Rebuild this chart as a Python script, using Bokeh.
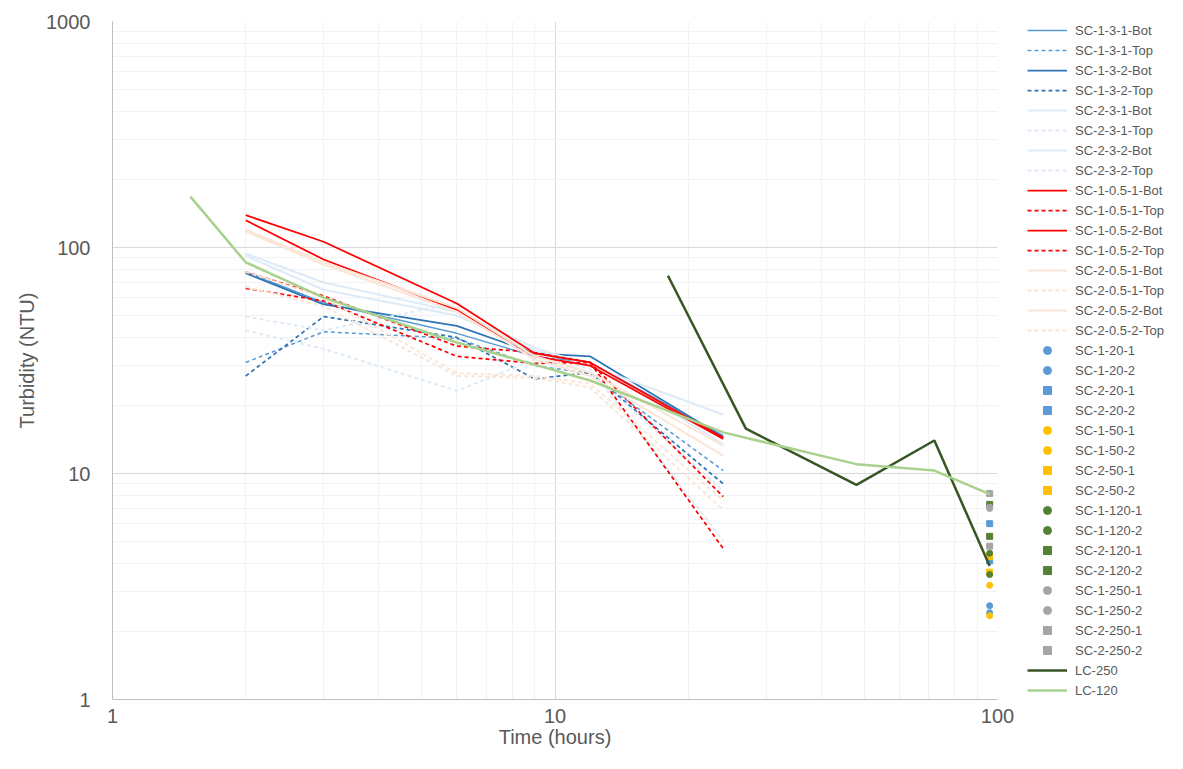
from bokeh.plotting import figure
from bokeh.models import Legend, LegendItem, FixedTicker
from bokeh.layouts import row
from bokeh.embed import file_html
from bokeh.resources import INLINE

# ---------------- data ----------------
times = [2, 3, 6, 9, 12, 24]

sc_1_3_1_bot = [78, 57, 41.7, 33, 31, 14.7]
sc_1_3_1_top = [31, 42.4, 39.6, 30, 27.7, 10.3]
sc_1_3_2_bot = [77, 56, 45, 34, 33, 14.5]
sc_1_3_2_top = [27, 49.5, 40, 26.2, 28, 9.0]
sc_2_3_1_bot = [94, 70, 52, 36, 30, 18.2]
sc_2_3_1_top = [43, 35.6, 23.2, 32, 28, 8.4]
sc_2_3_2_bot = [92, 65, 50, 35, 31, 13.5]
sc_2_3_2_top = [49.5, 43, 57, 34, 29, 5.05]
sc_1_05_1_bot = [139, 106, 56.5, 34, 31, 14.4]
sc_1_05_1_top = [78, 61, 36.6, 34.3, 31, 7.9]
sc_1_05_2_bot = [132, 88.5, 53, 33, 30, 14.2]
sc_1_05_2_top = [66, 58, 33, 30.7, 31, 4.65]
sc_2_05_1_bot = [120, 86, 54, 33, 28, 13.3]
sc_2_05_1_top = [78, 60, 27.8, 27, 25, 7.6]
sc_2_05_2_bot = [118, 84, 52, 32, 27, 12.0]
sc_2_05_2_top = [67, 55, 27, 26.5, 24, 6.9]

point_time = [96]
sc_1_20_1 = [2.6]
sc_1_20_2 = [2.42]
sc_2_20_1 = [6.0]
sc_2_20_2 = [4.1]
sc_1_50_1 = [3.2]
sc_1_50_2 = [2.35]
sc_2_50_1 = [4.3]
sc_2_50_2 = [3.66]
sc_1_120_1 = [4.44]
sc_1_120_2 = [3.57]
sc_2_120_1 = [7.3]
sc_2_120_2 = [5.27]
sc_1_250_1 = [7.1]
sc_1_250_2 = [7.0]
sc_2_250_1 = [8.16]
sc_2_250_2 = [4.77]

lc_250_time = [18, 27, 48, 72, 96]
lc_250 = [75, 15.8, 8.9, 14, 3.9]
lc_120_time = [1.5, 2, 3, 6, 12, 24, 48, 72, 96]
lc_120 = [168, 86, 60, 38, 25.8, 15.2, 11, 10.3, 8.1]

x_ticks = [1, 10, 100]
x_tick_labels = ["1", "10", "100"]
y_ticks = [1, 10, 100, 1000]
y_tick_labels = ["1", "10", "100", "1000"]

# ---------------- styles ----------------
BLUE1 = "#5B9BD5"
BLUE2 = "#2E75B6"
LBLUE = "#DEEBF7"
RED = "#FF0000"
PEACH = "#FBE5D6"
YEL = "#FFC000"
GRN = "#548235"
GRY = "#A5A5A5"

line_series = [
    ("SC-1-3-1-Bot", sc_1_3_1_bot, BLUE1, "solid", 1.5),
    ("SC-1-3-1-Top", sc_1_3_1_top, BLUE1, "4 3", 1.5),
    ("SC-1-3-2-Bot", sc_1_3_2_bot, BLUE2, "solid", 1.75),
    ("SC-1-3-2-Top", sc_1_3_2_top, BLUE2, "4 3", 1.75),
    ("SC-2-3-1-Bot", sc_2_3_1_bot, LBLUE, "solid", 2),
    ("SC-2-3-1-Top", sc_2_3_1_top, LBLUE, "4 3", 2),
    ("SC-2-3-2-Bot", sc_2_3_2_bot, LBLUE, "solid", 2),
    ("SC-2-3-2-Top", sc_2_3_2_top, LBLUE, "4 3", 2),
    ("SC-1-0.5-1-Bot", sc_1_05_1_bot, RED, "solid", 1.75),
    ("SC-1-0.5-1-Top", sc_1_05_1_top, RED, "4 3", 1.75),
    ("SC-1-0.5-2-Bot", sc_1_05_2_bot, RED, "solid", 1.75),
    ("SC-1-0.5-2-Top", sc_1_05_2_top, RED, "4 3", 1.75),
    ("SC-2-0.5-1-Bot", sc_2_05_1_bot, PEACH, "solid", 2),
    ("SC-2-0.5-1-Top", sc_2_05_1_top, PEACH, "4 3", 2),
    ("SC-2-0.5-2-Bot", sc_2_05_2_bot, PEACH, "solid", 2),
    ("SC-2-0.5-2-Top", sc_2_05_2_top, PEACH, "4 3", 2),
]

point_series = [
    ("SC-1-20-1", sc_1_20_1, BLUE1, "circle"),
    ("SC-1-20-2", sc_1_20_2, BLUE1, "circle"),
    ("SC-2-20-1", sc_2_20_1, BLUE1, "square"),
    ("SC-2-20-2", sc_2_20_2, BLUE1, "square"),
    ("SC-1-50-1", sc_1_50_1, YEL, "circle"),
    ("SC-1-50-2", sc_1_50_2, YEL, "circle"),
    ("SC-2-50-1", sc_2_50_1, YEL, "square"),
    ("SC-2-50-2", sc_2_50_2, YEL, "square"),
    ("SC-1-120-1", sc_1_120_1, GRN, "circle"),
    ("SC-1-120-2", sc_1_120_2, GRN, "circle"),
    ("SC-2-120-1", sc_2_120_1, GRN, "square"),
    ("SC-2-120-2", sc_2_120_2, GRN, "square"),
    ("SC-1-250-1", sc_1_250_1, GRY, "circle"),
    ("SC-1-250-2", sc_1_250_2, GRY, "circle"),
    ("SC-2-250-1", sc_2_250_1, GRY, "square"),
    ("SC-2-250-2", sc_2_250_2, GRY, "square"),
]

lc_series = [
    ("LC-250", lc_250_time, lc_250, "#375623", 2.5),
    ("LC-120", lc_120_time, lc_120, "#A9D18E", 2.5),
]

FONT = "Liberation Sans"
TXT = "#595959"
H = 753
TOP = 21
BOTTOM = 54

p = figure(width=1017, height=H, x_axis_type="log", y_axis_type="log",
           x_range=(1, 100), y_range=(1, 1000), title=None,
           output_backend="svg", toolbar_location=None,
           min_border_left=112, min_border_right=20,
           min_border_top=TOP, min_border_bottom=BOTTOM)

p.background_fill_color = "white"
p.border_fill_color = "white"
p.outline_line_color = None

def minors(majors):
    out = []
    for m in majors[:-1]:
        out += [m * k for k in range(2, 10)]
    return out

p.xaxis.ticker = FixedTicker(ticks=x_ticks, minor_ticks=minors(x_ticks))
p.yaxis.ticker = FixedTicker(ticks=y_ticks, minor_ticks=minors(y_ticks))
p.xaxis.major_label_overrides = {t: s for t, s in zip(x_ticks, x_tick_labels)}
p.yaxis.major_label_overrides = {t: s for t, s in zip(y_ticks, y_tick_labels)}

for ax in (p.xaxis[0], p.yaxis[0]):
    ax.axis_line_color = "#BFBFBF"
    ax.major_tick_line_color = None
    ax.minor_tick_line_color = None
    ax.major_tick_out = 0
    ax.major_tick_in = 0
    ax.minor_tick_out = 0
    ax.minor_tick_in = 0
    ax.major_label_text_font = FONT
    ax.major_label_text_font_size = "20px"
    ax.major_label_text_color = TXT
    ax.axis_label_text_font = FONT
    ax.axis_label_text_font_size = "20px"
    ax.axis_label_text_color = TXT
    ax.axis_label_text_font_style = "normal"

p.xaxis.axis_label = "Time (hours)"
p.yaxis.axis_label = "Turbidity (NTU)"
p.xaxis.major_label_standoff = 9
p.xaxis.axis_label_standoff = 0
p.yaxis.major_label_standoff = 22
p.yaxis.axis_label_standoff = 5

for g in (p.xgrid[0], p.ygrid[0]):
    g.grid_line_color = "#D9D9D9"
    g.grid_line_width = 1
    g.minor_grid_line_color = "#F2F2F2"
    g.minor_grid_line_width = 1

# legend panel: its own canvas to the right of the plot; its renderers
# reuse the same data but sit outside its (0..1) ranges, so only the
# legend swatches show.
lg = figure(width=150, height=H, x_range=(0, 1), y_range=(0, 1), title=None,
            output_backend="svg", toolbar_location=None,
            x_axis_location=None, y_axis_location=None,
            min_border_left=10, min_border_right=0,
            min_border_top=TOP, min_border_bottom=BOTTOM)
lg.grid.visible = False
lg.outline_line_color = None
lg.background_fill_color = "white"
lg.border_fill_color = "white"

items = []
for name, vals, color, dash, w in line_series:
    p.line(times, vals, line_color=color, line_dash=dash, line_width=w)
    k = lg.line(times, vals, line_color=color, line_dash=dash, line_width=w)
    items.append(LegendItem(label=name, renderers=[k]))

for name, vals, color, marker in point_series:
    p.scatter(point_time, vals, marker=marker, size=6,
              fill_color=color, line_color=color)
    k = lg.scatter(point_time, vals, marker=marker, size=6,
                   fill_color=color, line_color=color)
    items.append(LegendItem(label=name, renderers=[k]))

for name, tx, vals, color, w in lc_series:
    p.line(tx, vals, line_color=color, line_width=w)
    k = lg.line(tx, vals, line_color=color, line_width=w)
    items.append(LegendItem(label=name, renderers=[k]))

legend = Legend(items=items, location="left", ncols=1,
                label_text_font=FONT, label_text_font_size="13px",
                label_text_color=TXT, glyph_width=40, glyph_height=20,
                label_height=20, spacing=0, padding=0, margin=0,
                label_standoff=8, border_line_color=None,
                background_fill_alpha=0)
lg.add_layout(legend)

layout = row(p, lg)
open("out.html", "w").write(file_html(layout, INLINE))
